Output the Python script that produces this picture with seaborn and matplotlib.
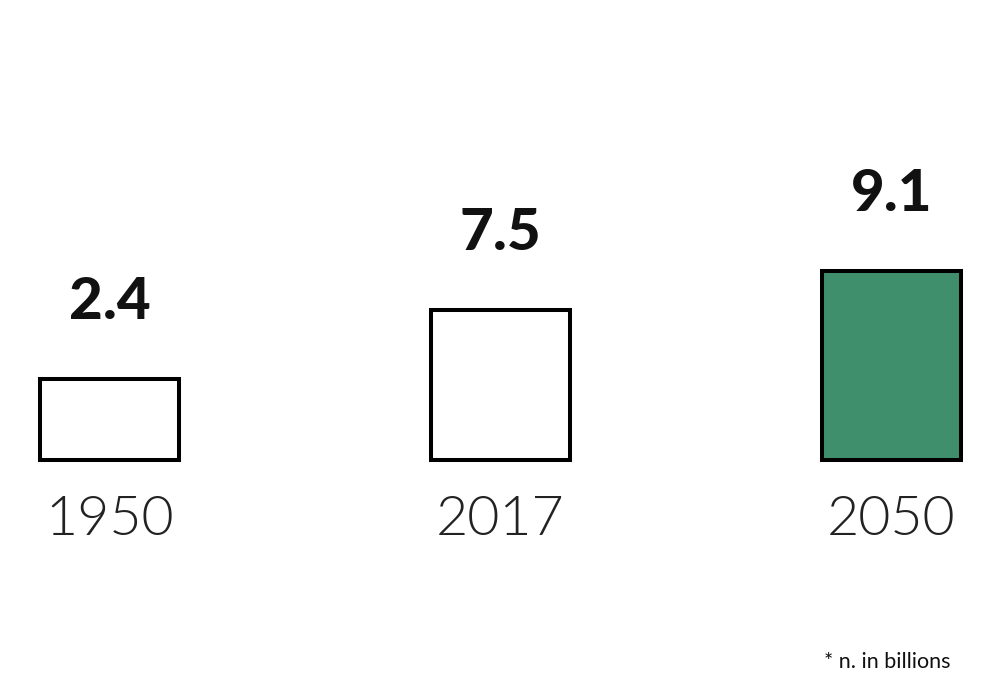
import matplotlib
matplotlib.use("Agg")
import matplotlib.pyplot as plt
import pandas as pd
import seaborn as sns

# dati
years = ["1950", "2017", "2050"]
values = [2.4, 7.5, 9.1]
# altezze delle barre come disegnate nel grafico (non proporzionali ai valori)
bar_heights = [81, 150, 189]
bar_colors = ["white", "white", "#408f6c"]
footnote = "* n. in billions"

sns.set_theme(style="white")
plt.rcParams["font.family"] = ["Lato", "DejaVu Sans"]

df = pd.DataFrame({"year": years, "height": bar_heights})

fig = plt.figure(figsize=(10, 6.98), dpi=100)
ax = fig.add_axes([0, 0, 1, 1])

sns.barplot(data=df, x="year", y="height", hue="year", palette=bar_colors,
            legend=False, width=139 / 391, edgecolor="black", linewidth=2.9,
            saturation=1, ax=ax)

ax.set_xlim(-109.5 / 391, (1000 - 109.5) / 391)
ax.set_ylim(-238, 460)
ax.axis("off")

# etichette: valore sopra, anno sotto
for i in range(len(years)):
    ax.text(i, bar_heights[i] + 60, f"{values[i]}", ha="center", va="baseline",
            fontsize=42, fontweight="black", color="#111111")
    ax.text(i, -75, years[i], ha="center", va="baseline",
            fontsize=40, fontweight=300, color="#222222")

fig.text(0.95, 1 - 668 / 698, footnote, ha="right", va="baseline",
         fontsize=15.5, color="#111111")

fig.savefig("out.png", dpi=100)
plt.close()
